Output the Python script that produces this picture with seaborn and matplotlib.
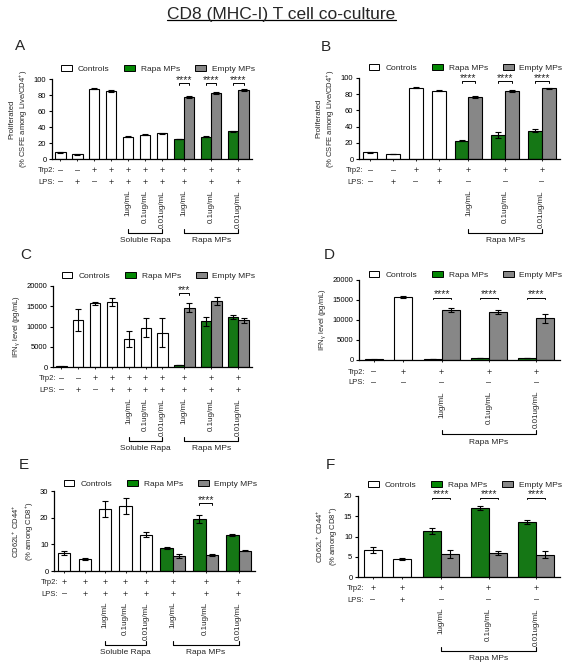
import numpy as np
import pandas as pd
import seaborn as sns
import matplotlib.pyplot as plt
from matplotlib.patches import Patch
from matplotlib.lines import Line2D
from matplotlib.transforms import offset_copy

sns.set_style('ticks')
plt.rcParams['font.family'] = ['Liberation Sans', 'DejaVu Sans']
plt.rcParams['mathtext.default'] = 'regular'

PAL = {'Controls': 'white', 'Rapa MPs': '#048804', 'Empty MPs': '#878787'}
CONC = ['1ug/mL', '0.1ug/mL', '0.01ug/mL']

# A - proliferation (soluble rapa + MPs)
a_ctrl, a_ctrl_err = [8.5, 6.0, 88.0, 85.0], [0.6, 0.4, 0.8, 0.8]
a_sol, a_sol_err = [28.0, 30.5, 32.0], [0.6, 0.5, 0.6]
a_rapa, a_rapa_err = [25.0, 28.0, 34.5], [0.5, 0.5, 0.6]
a_empty, a_empty_err = [77.5, 82.5, 86.0], [0.8, 1.0, 1.0]
a_trp2 = ['–', '–', '+', '+', '+', '+', '+', '+', '+', '+']
a_lps = ['–', '+', '–', '+', '+', '+', '+', '+', '+', '+']
a_stars = ['****', '****', '****']

# B - proliferation (MPs only)
b_ctrl, b_ctrl_err = [8.5, 6.0, 88.0, 84.5], [0.5, 0.4, 0.6, 0.6]
b_rapa, b_rapa_err = [22.5, 30.0, 35.0], [0.5, 3.5, 2.0]
b_empty, b_empty_err = [76.5, 84.0, 87.5], [1.0, 1.5, 0.6]
b_trp2 = ['–', '–', '+', '+', '+', '+', '+']
b_lps = ['–', '+', '–', '+', '–', '–', '–']
b_stars = ['****', '****', '****']

# C - IFNg (soluble rapa + MPs)
c_ctrl, c_ctrl_err = [150, 11600, 15700, 16000], [50, 2800, 300, 1000]
c_sol, c_sol_err = [7000, 9700, 8500], [2000, 2400, 3500]
c_rapa, c_rapa_err = [500, 11300, 12400], [80, 1100, 500]
c_empty, c_empty_err = [14600, 16200, 11500], [1100, 1000, 700]
c_trp2 = ['–', '–', '+', '+', '+', '+', '+', '+', '+', '+']
c_lps = ['–', '+', '–', '+', '+', '+', '+', '+', '+', '+']
c_stars = ['***', '', '']

# D - IFNg (MPs only)
d_ctrl, d_ctrl_err = [150, 15700], [50, 300]
d_rapa, d_rapa_err = [250, 500, 550], [30, 50, 50]
d_empty, d_empty_err = [12500, 12000, 10400], [500, 500, 1100]
d_trp2 = ['–', '+', '+', '+', '+']
d_lps = ['–', '–', '–', '–', '–']
d_stars = ['****', '****', '****']

# E - CD62L+ CD44+ (soluble rapa + MPs)
e_ctrl, e_ctrl_err = [6.7, 4.4], [0.7, 0.3]
e_sol, e_sol_err = [23.4, 24.2, 13.6], [3.0, 3.0, 1.0]
e_rapa, e_rapa_err = [8.6, 19.5, 13.6], [0.5, 1.5, 0.4]
e_empty, e_empty_err = [5.6, 5.9, 7.6], [0.8, 0.3, 0.1]
e_trp2 = ['+', '+', '+', '+', '+', '+', '+', '+']
e_lps = ['–', '+', '+', '+', '+', '+', '+', '+']
e_stars = ['', '****', '']

# F - CD62L+ CD44+ (MPs only)
f_ctrl, f_ctrl_err = [6.7, 4.4], [0.7, 0.3]
f_rapa, f_rapa_err = [11.3, 17.0, 13.6], [0.8, 0.5, 0.5]
f_empty, f_empty_err = [5.7, 5.9, 5.5], [0.9, 0.5, 0.9]
f_trp2 = ['+', '+', '+', '+', '+']
f_lps = ['–', '+', '–', '–', '–']
f_stars = ['****', '****', '****']

LAB_PROL = 'Proliferated\n(% CSFE among Live/CD4$^{+}$)'
LAB_IFN = 'IFN$_{\\gamma}$ level (pg/mL)'
LAB_CD = 'CD62L$^{+}$ CD44$^{+}$\n(% among CD8$^{+}$)'

W, H = 569, 668
GAP = 0.65


def slots(n_single, n_pair):
    # prism-like layout: bar width 1, pairs of touching bars, fixed gap
    centers, x = [], 0.0
    for w in [1] * n_single + [2] * n_pair:
        centers.append(x + w / 2)
        x += w + GAP
    return np.array(centers), x - GAP


def below(ax, x, text, px, **kw):
    ax.annotate(text, xy=(x, 0), xycoords=('data', 'axes fraction'),
                xytext=(0, -px * 0.72), textcoords='offset points',
                annotation_clip=False, **kw)


def panel(fig, box, letter, ctrl, ctrl_err, sol, sol_err, rapa, rapa_err, empty, empty_err,
          trp2, lps, stars, star_h, ymax, ystep, ylabel, leg_dy):
    l, r, t, b = box
    ax = fig.add_axes([l / W, 1 - b / H, (r - l) / W, (b - t) / H])
    ax_h = b - t

    n_s = len(ctrl) + len(sol)
    centers, total = slots(n_s, len(rapa))
    pc = centers[n_s:]

    df = pd.DataFrame({
        'x': list(centers[:n_s]) + list(pc - 0.5) + list(pc + 0.5),
        'value': ctrl + sol + rapa + empty,
        'err': ctrl_err + sol_err + rapa_err + empty_err,
        'kind': ['Controls'] * n_s + ['Rapa MPs'] * len(rapa) + ['Empty MPs'] * len(empty),
    })

    sns.barplot(data=df, x='x', y='value', hue='kind', hue_order=list(PAL), palette=PAL,
                native_scale=True, width=1, errorbar=None, edgecolor='black',
                linewidth=0.8, legend=False, ax=ax)
    ax.errorbar(df['x'], df['value'], yerr=df['err'], fmt='none', ecolor='black',
                elinewidth=0.8, capsize=2.2, capthick=0.8, zorder=5)

    ax.set_xlim(-GAP / 2, total + GAP / 2)
    ax.set_ylim(0, ymax)
    ax.set_yticks(np.arange(0, ymax + 1, ystep))
    ax.set_xticks(centers)
    ax.set_xticklabels([])
    ax.set_xlabel('')
    ax.set_ylabel(ylabel, fontsize=5.5, labelpad=3, linespacing=1.3)
    sns.despine(ax=ax)
    for s in ['left', 'bottom']:
        ax.spines[s].set_linewidth(0.9)
        ax.spines[s].set_color('black')
    ax.tick_params(axis='y', length=2.5, width=0.8, labelsize=5.5, pad=1.5, colors='black')
    ax.tick_params(axis='x', length=1.5, width=0.6, colors='black')

    # significance brackets
    d = ymax * 0.02
    for c, s in zip(pc, stars):
        if not s:
            continue
        ax.plot([c - 0.5, c - 0.5, c + 0.5, c + 0.5], [star_h - d, star_h, star_h, star_h - d],
                color='black', lw=0.7, clip_on=False)
        ax.text(c, star_h - d * 1.2, s, ha='center', va='bottom', fontsize=7.5, clip_on=False)

    # condition table
    below(ax, 0, 'Trp2:', 12, ha='right', va='center', fontsize=5.5)
    below(ax, 0, 'LPS:', 23, ha='right', va='center', fontsize=5.5)
    for c, tp, lp in zip(centers, trp2, lps):
        below(ax, c, tp, 12, ha='center', va='center', fontsize=6.5)
        below(ax, c, lp, 23, ha='center', va='center', fontsize=6.5)

    groups = [(pc, 'Rapa MPs')]
    if sol:
        sc = centers[len(ctrl):n_s]
        groups = [(sc, 'Soluble Rapa')] + groups
    tr = offset_copy(ax.get_xaxis_transform(), fig=fig, x=0, y=-74, units='dots')
    for gc, name in groups:
        for c, txt in zip(gc, CONC):
            below(ax, c, txt, 31, ha='center', va='top', rotation=90, fontsize=5.8)
        ax.plot([gc[0], gc[0], gc[-1], gc[-1]], [4 / ax_h, 0, 0, 4 / ax_h],
                transform=tr, color='black', lw=0.8, clip_on=False)
        below(ax, (gc[0] + gc[-1]) / 2, name, 82, ha='center', va='center', fontsize=6)

    handles = [Patch(facecolor=PAL[k], edgecolor='black', linewidth=0.7) for k in PAL]
    ax.legend(handles, list(PAL), loc='center', bbox_to_anchor=(0.53, 1 + leg_dy / ax_h),
              ncol=3, frameon=False, fontsize=6, handlelength=1.3, handleheight=0.75,
              handletextpad=0.7, columnspacing=1.8, borderaxespad=0)

    fig.text(letter[1] / W, 1 - letter[2] / H, letter[0], fontsize=11,
             ha='center', va='center')
    return ax


fig = plt.figure(figsize=(W / 100, H / 100), dpi=100)

panel(fig, (52, 252, 79, 159), ('A', 20, 46), a_ctrl, a_ctrl_err, a_sol, a_sol_err,
      a_rapa, a_rapa_err, a_empty, a_empty_err, a_trp2, a_lps, a_stars, 95, 100, 20, LAB_PROL, 10)
panel(fig, (359, 560, 78, 159), ('B', 326, 47), b_ctrl, b_ctrl_err, [], [],
      b_rapa, b_rapa_err, b_empty, b_empty_err, b_trp2, b_lps, b_stars, 96, 100, 20, LAB_PROL, 10)
panel(fig, (53, 252, 286, 367), ('C', 26, 255), c_ctrl, c_ctrl_err, c_sol, c_sol_err,
      c_rapa, c_rapa_err, c_empty, c_empty_err, c_trp2, c_lps, c_stars, 18300, 20000, 5000, LAB_IFN, 10)
panel(fig, (359, 560, 280, 360), ('D', 329, 255), d_ctrl, d_ctrl_err, [], [],
      d_rapa, d_rapa_err, d_empty, d_empty_err, d_trp2, d_lps, d_stars, 15600, 20000, 5000, LAB_IFN, 5)
panel(fig, (54, 255, 491, 571), ('E', 24, 465), e_ctrl, e_ctrl_err, e_sol, e_sol_err,
      e_rapa, e_rapa_err, e_empty, e_empty_err, e_trp2, e_lps, e_stars, 25.5, 30, 10, LAB_CD, 7)
panel(fig, (358, 560, 496, 577), ('F', 330, 465), f_ctrl, f_ctrl_err, [], [],
      f_rapa, f_rapa_err, f_empty, f_empty_err, f_trp2, f_lps, f_stars, 19.6, 20, 5, LAB_CD, 11)

# underlined figure title
title = fig.text(281.5 / W, 1 - 14 / H, 'CD8 (MHC-I) T cell co-culture', fontsize=12.5,
                 ha='center', va='center')
fig.canvas.draw()
bb = title.get_window_extent().transformed(fig.transFigure.inverted())
fig.add_artist(Line2D([bb.x0, bb.x1], [bb.y0 + 0.002, bb.y0 + 0.002], transform=fig.transFigure,
                      color='black', lw=0.9))

fig.savefig('out.png', dpi=100)
